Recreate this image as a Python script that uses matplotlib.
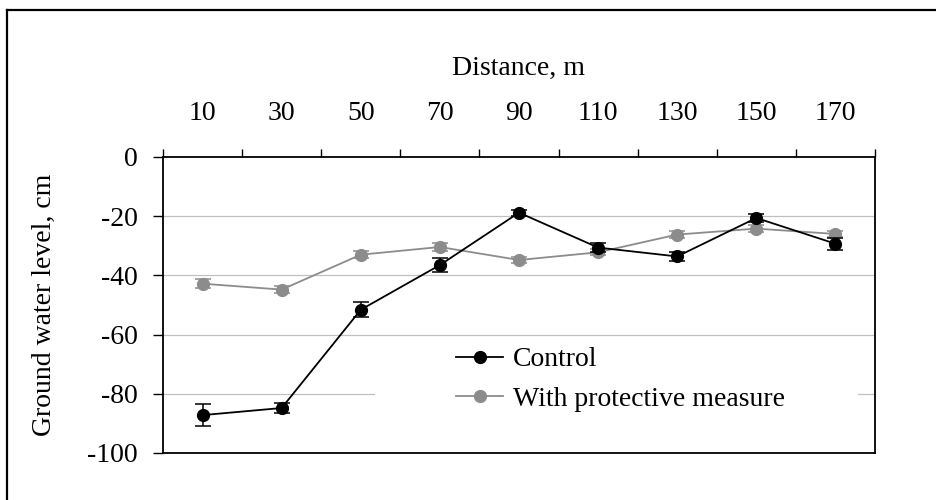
import matplotlib
matplotlib.use("Agg")
import matplotlib.pyplot as plt
from matplotlib.lines import Line2D
from matplotlib.patches import Rectangle
import numpy as np

distances = ["10", "30", "50", "70", "90", "110", "130", "150", "170"]
control = [-87.2, -84.8, -51.6, -36.5, -18.8, -30.6, -33.6, -20.6, -29.3]
control_err = [3.6, 1.8, 2.5, 2.3, 1.0, 1.5, 1.5, 1.5, 2.1]
protective = [-42.8, -44.8, -33.0, -30.4, -34.8, -32.2, -26.2, -24.2, -26.0]
protective_err = [1.6, 1.3, 1.2, 1.2, 1.0, 1.0, 1.2, 1.2, 1.0]
yticks = [0, -20, -40, -60, -80, -100]

plt.rcParams['font.family'] = ['Liberation Serif', 'DejaVu Serif']
plt.rcParams['font.size'] = 20

fig = plt.figure(figsize=(9.37, 5.0), dpi=100)
ax = fig.add_axes([163/937, 1-453/500, (875-163)/937, (453-157)/500])

x = np.arange(len(distances))

ax.set_ylim(-100, 0)
ax.set_xlim(-0.5, len(distances)-0.5)
ax.set_yticks(yticks)
ax.set_yticklabels([str(v) for v in yticks])
for v in yticks[1:-1]:
    ax.axhline(v, color='#c0c0c0', lw=0.9, zorder=0.5)

# legend background (white area covering gridline)
ax.add_patch(Rectangle((0.298, 0.128), 0.678, 0.25, transform=ax.transAxes,
                       facecolor='white', edgecolor='none', zorder=0.8))

gray = '#8c8c8c'
ax.errorbar(x, protective, yerr=protective_err, color=gray, ecolor=gray,
            lw=1.3, marker='o', markersize=8.5, capsize=6, elinewidth=1.1,
            capthick=1.1, zorder=3)
ax.errorbar(x, control, yerr=control_err, color='black', ecolor='black',
            lw=1.3, marker='o', markersize=8.5, capsize=6, elinewidth=1.1,
            capthick=1.1, zorder=4)

handles = [Line2D([], [], color='black', lw=1.3, marker='o', markersize=8.5),
           Line2D([], [], color=gray, lw=1.3, marker='o', markersize=8.5)]
labels = ['Control', 'With protective measure']
leg = ax.legend(handles, labels, loc='upper left',
                bbox_to_anchor=((456-163)/712, (453-347)/296), frameon=False,
                borderpad=0, borderaxespad=0, handlelength=1.7, handletextpad=0.35,
                labelspacing=0.5, fontsize=20)

ax.xaxis.tick_top()
ax.xaxis.set_label_position('top')
ax.set_xticks(x)
ax.set_xticklabels(distances)
ax.set_xticks(np.arange(-0.5, len(distances), 1.0), minor=True)
ax.tick_params(axis='x', which='major', length=0, pad=22)
ax.tick_params(axis='x', which='minor', length=5.5, width=1.0, direction='out', color='black')
ax.tick_params(axis='y', which='major', length=7, width=1.0, direction='out', pad=11)
ax.set_xlabel('Distance, m', labelpad=19)
ax.set_ylabel('Ground water level, cm', labelpad=22)
for s in ax.spines.values():
    s.set_color('black')
    s.set_linewidth(1.3)

# outer frame
fig.add_artist(Line2D([7/937, 7/937], [1-10/500, -0.1], color='black', lw=1.6,
                      transform=fig.transFigure))
fig.add_artist(Line2D([7/937, 1.1], [1-10/500, 1-10/500], color='black', lw=1.6,
                      transform=fig.transFigure))

fig.savefig('out.png', dpi=100)
